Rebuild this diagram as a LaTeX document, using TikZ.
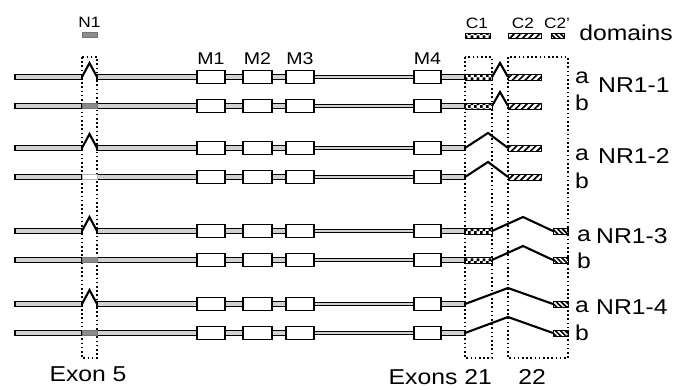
\documentclass[tikz,border=0pt]{standalone}
\usepackage{fontspec}
\setmainfont{Liberation Sans}[FakeStretch=1.15]
\usepackage{tikz}
\usetikzlibrary{patterns.meta}

% checkered fill for the C1 cassette
\pgfdeclarepatternformonly{checker}{\pgfqpoint{0pt}{0pt}}{\pgfqpoint{6pt}{6pt}}{\pgfqpoint{6pt}{6pt}}{%
  \pgfpathrectangle{\pgfqpoint{0pt}{0pt}}{\pgfqpoint{3pt}{3pt}}%
  \pgfpathrectangle{\pgfqpoint{3pt}{3pt}}{\pgfqpoint{3pt}{3pt}}%
  \pgfusepath{fill}}

\tikzset{
  strand/.style={draw, fill=black!18, line width=1.5pt},
  thinstrand/.style={draw, fill=black!18, line width=1.2pt},
  mbox/.style={draw, fill=white, line width=1.7pt},
  splice/.style={line width=2.1pt},
  nexon/.style={draw=black!55, fill=black!45, line width=0.6pt},
  exonframe/.style={dash pattern=on 1.6pt off 2.6pt, line width=1.6pt},
  cone/.style={draw, line width=0.8pt, pattern=checker},
  ctwo/.style={draw, line width=0.7pt, pattern={Lines[angle=45,distance=4.5pt,line width=1.7pt]}},
  ctwop/.style={draw, line width=0.7pt, pattern={Lines[angle=-45,distance=3.5pt,line width=1.7pt]}},
  bigtxt/.style={font=\fontsize{21.5}{23}\selectfont, inner sep=0pt, anchor=base},
  midtxt/.style={font=\fontsize{17}{19}\selectfont, inner sep=0pt, anchor=base},
  smalltxt/.style={font=\fontsize{15}{17}\selectfont, inner sep=0pt, anchor=base}
}

% common part of one transcript at height #1
\newcommand{\nrcore}[1]{%
  \draw[strand] (15,#1-2.6) rectangle (82,#1+2.6);
  \draw[strand] (97,#1-2.6) rectangle (300,#1+2.6);
  \draw[thinstrand] (300,#1-1.8) rectangle (430,#1+1.8);
  \draw[strand] (430,#1-2.6) rectangle (465,#1+2.6);
  \draw[mbox] (197,#1-6.5) rectangle (225,#1+6.5);
  \draw[mbox] (243,#1-6.5) rectangle (272,#1+6.5);
  \draw[mbox] (286,#1-6.5) rectangle (314,#1+6.5);
  \draw[mbox] (414,#1-6.5) rectangle (441,#1+6.5);
}
\newcommand{\nskip}[1]{\draw[splice] (82,#1) -- (89.5,#1-14) -- (97,#1);}
\newcommand{\nkeep}[1]{\draw[nexon] (82,#1-2.6) rectangle (97,#1+2.6);}

\begin{document}
\begin{tikzpicture}[x=1pt, y=-1pt]
\useasboundingbox (0,0) rectangle (682,389);

% legend
\node[smalltxt] (lblN1) at (89.5,27) {N1};
\draw[nexon] (82,32) rectangle (97,37);
\node[smalltxt] (lblC1) at (477,28) {C1};
\draw[cone] (465,33) rectangle (490,38);
\node[smalltxt] (lblC2) at (523,28) {C2};
\draw[ctwo] (508,33) rectangle (541,38);
\node[smalltxt] (lblC2p) at (557,28) {C2'};
\draw[ctwop] (551,33) rectangle (564,38);
\node[bigtxt] (lblDom) at (626,40) {domains};

\node[midtxt] (lblM1) at (211,64) {M1};
\node[midtxt] (lblM2) at (257.5,64) {M2};
\node[midtxt] (lblM3) at (300,64) {M3};
\node[midtxt] (lblM4) at (427.5,64) {M4};

% exon frames
\draw[exonframe] (82,57) rectangle (97,358);
\draw[exonframe] (465,57) rectangle (492,358);
\draw[exonframe] (508,57) rectangle (568,358);

% NR1-1
\nrcore{77} \nskip{77}
\draw[splice] (492,77) -- (500,63) -- (508,77);
\draw[cone] (465,74) rectangle (492,80);
\draw[ctwo] (508,74) rectangle (541,80);
\nrcore{106} \nkeep{106}
\draw[splice] (492,106) -- (500,92) -- (508,106);
\draw[cone] (465,103) rectangle (492,109);
\draw[ctwo] (508,103) rectangle (541,109);

% NR1-2
\nrcore{148} \nskip{148}
\draw[splice] (465,148) -- (488,133) -- (508,148);
\draw[ctwo] (508,145) rectangle (541,151);
\nrcore{177}
\draw[draw=black!30, fill=white, line width=0.5pt] (82,174.4) rectangle (97,179.6);
\draw[splice] (465,177) -- (488,162) -- (508,177);
\draw[ctwo] (508,174) rectangle (541,180);

% NR1-3
\nrcore{231} \nskip{231}
\draw[cone] (465,228) rectangle (492,234);
\draw[splice] (492,231) -- (523,217) -- (553,231);
\draw[ctwop] (553,228) rectangle (568,234);
\nrcore{260} \nkeep{260}
\draw[cone] (465,257) rectangle (492,263);
\draw[splice] (492,260) -- (523,246) -- (553,260);
\draw[ctwop] (553,257) rectangle (568,263);

% NR1-4
\nrcore{304} \nskip{304}
\draw[splice] (465,304) -- (508,288) -- (553,304);
\draw[ctwop] (553,301) rectangle (568,307);
\nrcore{333} \nkeep{333}
\draw[splice] (465,333) -- (508,317) -- (553,333);
\draw[ctwop] (553,330) rectangle (568,336);

% splice variant labels
\node[bigtxt] (a1) at (582,83) {a};
\node[bigtxt] (b1) at (582,110) {b};
\node[bigtxt, anchor=base west] (nr1) at (598,92) {NR1-1};
\node[bigtxt] (a2) at (582,160) {a};
\node[bigtxt] (b2) at (582,188) {b};
\node[bigtxt, anchor=base west] (nr2) at (598,163) {NR1-2};
\node[bigtxt] (a3) at (584,241) {a};
\node[bigtxt] (b3) at (584,268) {b};
\node[bigtxt, anchor=base west] (nr3) at (596,243) {NR1-3};
\node[bigtxt] (a4) at (582,312) {a};
\node[bigtxt] (b4) at (582,340) {b};
\node[bigtxt, anchor=base west] (nr4) at (596,314) {NR1-4};

\node[bigtxt] (ex5) at (88,381) {Exon 5};
\node[bigtxt, anchor=base east] (ex21) at (492,384) {Exons 21};
\node[bigtxt] (ex22) at (532,384) {22};
\end{tikzpicture}
\end{document}
